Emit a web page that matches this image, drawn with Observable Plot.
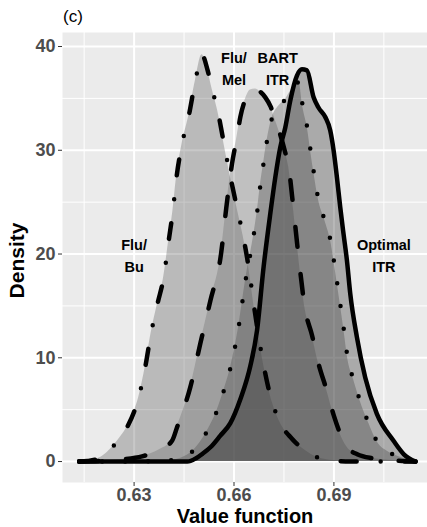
<!DOCTYPE html>
<html>
<head>
<meta charset="utf-8">
<script src="https://cdn.jsdelivr.net/npm/d3@7"></script>
<script src="https://cdn.jsdelivr.net/npm/@observablehq/plot@0.6"></script>
<style>
  html, body { margin: 0; padding: 0; background: #ffffff; }
  #chart { width: 427px; height: 527px; }
</style>
</head>
<body>
<div id="chart"></div>
<script>
// ---- Data ----
const buX  = [0.6135, 0.6160, 0.6185, 0.6205, 0.6225, 0.6255, 0.6282, 0.6300, 0.6314, 0.6334, 0.6350, 0.6371, 0.6389, 0.6404, 0.6417, 0.6427, 0.6444, 0.6464, 0.6484, 0.6504, 0.6520, 0.6535, 0.6551, 0.6570, 0.6590, 0.6610, 0.6627, 0.6645, 0.6660, 0.6686, 0.6704, 0.6736, 0.6774, 0.6814, 0.6850, 0.6900, 0.6950, 0.7145];
const buY  = [0, 0.05, 0.2, 0.5, 1.06, 2.2, 3.5, 4.8, 6.2, 9.2, 12.2, 15.3, 17.8, 21.3, 24.3, 27.3, 30.6, 33.3, 36.7, 39.2, 37.8, 35.8, 33.8, 30.6, 27.3, 24.3, 21.8, 18.5, 15.0, 9.8, 7.0, 3.9, 2.2, 1.06, 0.4, 0.1, 0, 0];

const melX = [0.6135, 0.6200, 0.6260, 0.6324, 0.6380, 0.6414, 0.6429, 0.6469, 0.6499, 0.6529, 0.6561, 0.6577, 0.6594, 0.6609, 0.6619, 0.6635, 0.6649, 0.6664, 0.6680, 0.6694, 0.6710, 0.6723, 0.6738, 0.6752, 0.6764, 0.6779, 0.6794, 0.6814, 0.6834, 0.6854, 0.6879, 0.6900, 0.6939, 0.6970, 0.7018, 0.7080, 0.7145];
const melY = [0, 0.05, 0.2, 0.5, 1.2, 2.0, 3.3, 7.2, 11.4, 15.5, 20.0, 24.5, 28.7, 31.3, 33.2, 35.0, 35.8, 35.9, 35.6, 35.1, 34.2, 33.0, 31.6, 30.0, 28.4, 24.2, 19.7, 14.6, 12.2, 9.4, 6.8, 4.4, 1.4, 0.7, 0.3, 0.1, 0];

const bartX = [0.6135, 0.6350, 0.6420, 0.6450, 0.6476, 0.6517, 0.6547, 0.6569, 0.6589, 0.6604, 0.6616, 0.6626, 0.6640, 0.6652, 0.6661, 0.6671, 0.6679, 0.6689, 0.6699, 0.6714, 0.6735, 0.6754, 0.6772, 0.6787, 0.6795, 0.6807, 0.6821, 0.6831, 0.6841, 0.6853, 0.6873, 0.6891, 0.6902, 0.6912, 0.6922, 0.6932, 0.6941, 0.6959, 0.6979, 0.7003, 0.7034, 0.7060, 0.7091, 0.7120, 0.7145];
const bartY = [0, 0.02, 0.15, 0.45, 1.0, 2.8, 4.75, 6.8, 9.0, 11.2, 13.4, 15.6, 18.5, 20.5, 22.2, 24.4, 26.6, 28.8, 30.9, 33.1, 34.3, 34.9, 35.8, 36.4, 36.6, 34.1, 32.0, 29.7, 27.6, 25.3, 23.2, 21.1, 18.9, 16.7, 14.5, 12.2, 10.0, 7.9, 5.8, 3.8, 1.7, 1.0, 0.5, 0.2, 0];

const optX = [0.6135, 0.6460, 0.6485, 0.6505, 0.6530, 0.6559, 0.6589, 0.6619, 0.6649, 0.6669, 0.6689, 0.6709, 0.6724, 0.6739, 0.6754, 0.6769, 0.6789, 0.6804, 0.6819, 0.6839, 0.6854, 0.6874, 0.6889, 0.6899, 0.6909, 0.6919, 0.6929, 0.6939, 0.6949, 0.6969, 0.6994, 0.7029, 0.7079, 0.7110, 0.7145];
const optY = [0, 0, 0.3, 0.74, 1.4, 2.5, 3.7, 6.0, 9.2, 12.6, 18.8, 23.9, 27.4, 30.3, 32.2, 34.8, 37.2, 37.8, 37.7, 35.1, 34.1, 33.2, 31.9, 30.0, 27.4, 24.5, 21.9, 19.4, 16.2, 12.0, 8.1, 4.6, 2.0, 0.7, 0];

const seriesNames = ["Flu/Bu", "Flu/Mel", "BART ITR", "Optimal ITR"];
const labelText   = ["Flu/\nBu", "Flu/\nMel", "BART\nITR", "Optimal\nITR"];
const labelX      = [0.63, 0.66, 0.6731, 0.705];
const labelY      = [20, 38, 38, 20];

const xTicks = [0.63, 0.66, 0.69];
const xMinor = [0.615, 0.645, 0.675, 0.705];
const yTicks = [0, 10, 20, 30, 40];
const yMinor = [5, 15, 25, 35];

const titleText = "(c)";
const xTitle = "Value function";
const yTitle = "Density";

// ---- Build tables ----
const xs = [buX, melX, bartX, optX];
const ys = [buY, melY, bartY, optY];
const fills = ["#555555", "#666666", "#444444", "#222222"];
const dashes = ["16,24,0,24", "19.5,27.5", "0,23", null];

const tables = seriesNames.map((name, i) => xs[i].map((x, j) => ({series: name, x, y: ys[i][j]})));
const labels = labelText.map((t, i) => ({t, x: labelX[i], y: labelY[i]}));

const font = "Liberation Sans, Arial, Helvetica, sans-serif";

const marks = [
  Plot.frame({fill: "#EBEBEB", stroke: null}),
  Plot.ruleX(xMinor, {stroke: "#ffffff", strokeWidth: 1}),
  Plot.ruleY(yMinor, {stroke: "#ffffff", strokeWidth: 1}),
  Plot.ruleX(xTicks, {stroke: "#ffffff", strokeWidth: 2}),
  Plot.ruleY(yTicks, {stroke: "#ffffff", strokeWidth: 2}),
];
tables.forEach((t, i) => {
  marks.push(Plot.areaY(t, {x: "x", y: "y", fill: fills[i], fillOpacity: 0.32, curve: "monotone-x"}));
});
tables.forEach((t, i) => {
  const o = {x: "x", y: "y", stroke: "#000000", strokeWidth: 4.5, curve: "monotone-x", strokeLinecap: "round", strokeLinejoin: "round"};
  if (dashes[i]) o.strokeDasharray = dashes[i];
  marks.push(Plot.line(t, o));
});
marks.push(
  Plot.text(labels, {x: "x", y: "y", text: "t", fontSize: 14.5, fontWeight: "bold", fill: "#000000", lineHeight: 1.52}),
  Plot.axisX(xTicks, {tickSize: 4, tickPadding: 2, fontSize: 18, fontWeight: "bold", fill: "#4D4D4D", stroke: "#333333", label: null, tickFormat: d => d.toFixed(2)}),
  Plot.axisY(yTicks, {tickSize: 4, tickPadding: 3, fontSize: 18, fontWeight: "bold", fill: "#4D4D4D", stroke: "#333333", label: null}),
  Plot.text([titleText], {text: d => d, frameAnchor: "top-left", textAnchor: "start", lineAnchor: "middle", dx: 0.5, dy: -16, fontSize: 17, fill: "#000000"}),
  Plot.text([xTitle], {text: d => d, frameAnchor: "bottom", textAnchor: "middle", lineAnchor: "bottom", dy: 40.5, fontSize: 20, fontWeight: "bold", fill: "#000000"}),
  Plot.text([yTitle], {text: d => d, frameAnchor: "left", textAnchor: "middle", lineAnchor: "middle", rotate: -90, dx: -45, dy: 3, fontSize: 21, fontWeight: "bold", fill: "#000000"})
);

const chart = Plot.plot({
  width: 427,
  height: 527,
  marginTop: 32,
  marginBottom: 45,
  marginLeft: 62,
  marginRight: 0,
  style: {fontFamily: font, background: "#ffffff", overflow: "visible"},
  x: {domain: [0.6085, 0.7181]},
  y: {domain: [-2.02, 41.35]},
  marks
});
document.getElementById("chart").appendChild(chart);
</script>
</body>
</html>
